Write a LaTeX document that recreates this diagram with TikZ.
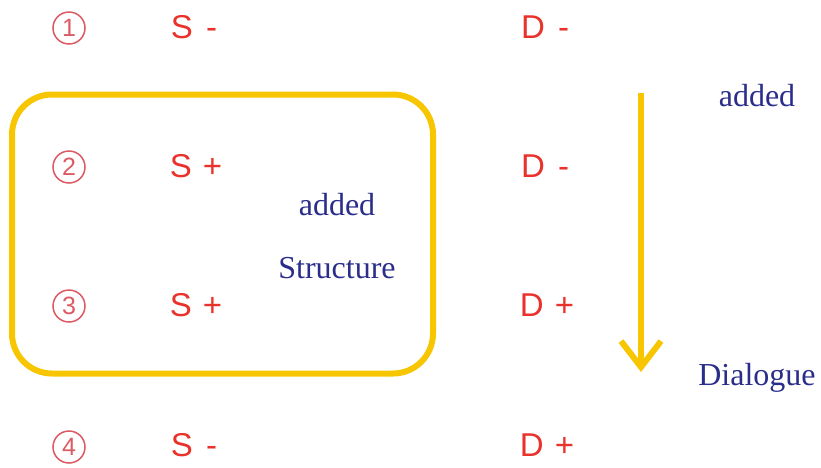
\documentclass[tikz,border=0pt]{standalone}
\usepackage{fontspec}
\setmainfont{Liberation Serif}
\newfontfamily\labfont{Liberation Sans}
\usetikzlibrary{arrows.meta}
\definecolor{lred}{HTML}{E8322B}
\definecolor{cred}{HTML}{DC5A64}
\definecolor{navy}{HTML}{2A2D8A}
\definecolor{gold}{HTML}{F7C600}
\tikzset{
  num/.style={circle, draw=cred, line width=1.5pt, minimum size=32pt, inner sep=0pt,
    font=\labfont\fontsize{25}{25}\selectfont, text=cred},
  lab/.style={font=\labfont\fontsize{33}{33}\selectfont, text=lred, inner sep=0pt},
  note/.style={font=\fontsize{32}{32}\selectfont, text=navy, inner sep=0pt},
  goldline/.style={draw=gold, line width=6pt},
}
\begin{document}
\begin{tikzpicture}[x=1pt,y=-1pt]
\useasboundingbox (0,0) rectangle (821,467);
\draw[goldline, rounded corners=40pt] (12,94.5) rectangle (433,373.5);
\node[num] (n1) at (69,28) {1};
\node[num] (n2) at (69,167) {2};
\node[num] (n3) at (69,306) {3};
\node[num] (n4) at (69,447) {4};
\node[lab] (s1) at (194,27) {S\hspace{4pt} -};
\node[lab] (s2) at (196,166) {S\hspace{2pt} +};
\node[lab] (s3) at (196,305) {S\hspace{2pt} +};
\node[lab] (s4) at (194,445) {S\hspace{4pt} -};
\node[lab] (d1) at (545,27) {D\hspace{4pt} -};
\node[lab] (d2) at (545,166) {D\hspace{4pt} -};
\node[lab] (d3) at (547,305) {D\hspace{2pt} +};
\node[lab] (d4) at (547,445) {D\hspace{2pt} +};
\node[note] (a1) at (337,205) {added};
\node[note] (st) at (337,268) {Structure};
\node[note] (a2) at (757,96) {added};
\node[note] (dl) at (757,378) {Dialogue};
\coordinate (top) at (641,93);
\coordinate (bot) at (641,372);
\draw[draw=gold, line width=6pt, -{Straight Barb[length=26pt,width=40pt,line width=6pt]}] (top) -- (bot);
\end{tikzpicture}
\end{document}
